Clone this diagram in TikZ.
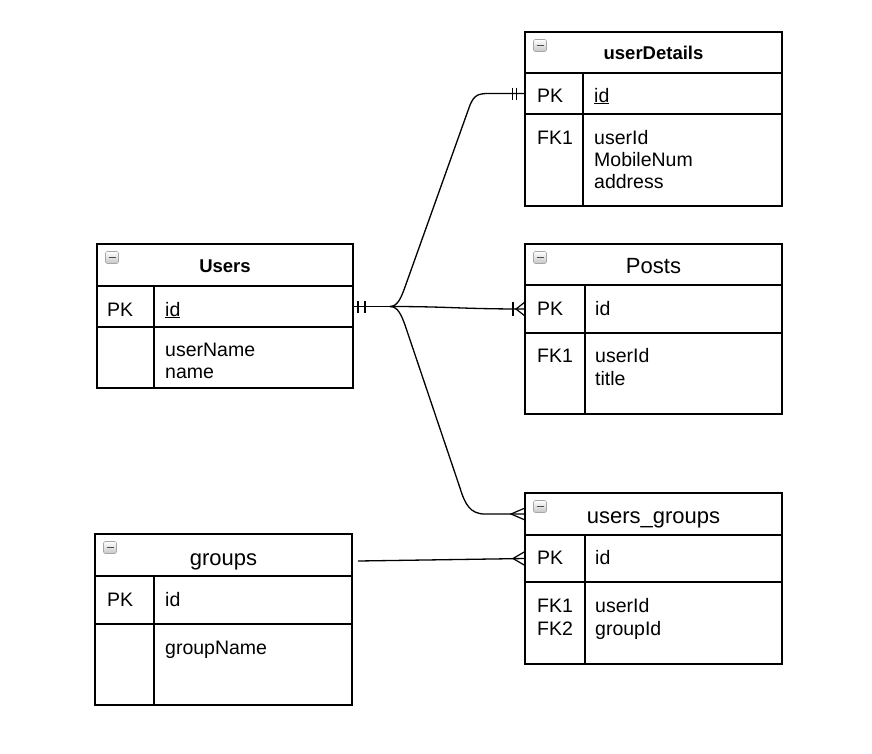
\documentclass[tikz,border=0pt]{standalone}
\usepackage{fontspec}
\setmainfont{Liberation Sans}
\usetikzlibrary{calc}
\newcommand\fieldfont{\fontsize{19.5}{22}\selectfont}
\newcommand\btitlefont{\fontsize{18.5}{22}\selectfont\bfseries}
\newcommand\rtitlefont{\fontsize{22}{26}\selectfont}
\tikzset{
  rowbox/.style={draw=black, line width=1.4pt, rectangle, inner sep=0pt, outer sep=0pt, fill=white},
  tline/.style={draw=black, line width=1.4pt},
  conn/.style={draw=black, line width=1.3pt},
  cardmark/.style={draw=black, line width=1.2pt},
  txt/.style={inner sep=0pt, anchor=base west, font=\fieldfont},
  btitle/.style={inner sep=0pt, anchor=base, font=\btitlefont},
  rtitle/.style={inner sep=0pt, anchor=base, font=\rtitlefont},
  minusicon/.style={rectangle, rounded corners=2pt, minimum width=13pt, minimum height=12pt,
    inner sep=0pt, draw=gray!70, line width=0.6pt, top color=white, bottom color=gray!45,
    path picture={\draw[line width=1.8pt, black!70]
      ([xshift=3pt]path picture bounding box.west) -- ([xshift=-3pt]path picture bounding box.east);}},
}
% name, x, y, width, title h, key h, fields h, divider offset
\newcommand\ertab[8]{%
  \node[rowbox, minimum width=#4pt, minimum height=#5pt, anchor=north west] (#1-t) at (#2,#3) {};
  \node[rowbox, minimum width=#4pt, minimum height=#6pt, anchor=north west] (#1-k) at (#1-t.south west) {};
  \node[rowbox, minimum width=#4pt, minimum height=#7pt, anchor=north west] (#1-f) at (#1-k.south west) {};
  \draw[tline] ([xshift=#8pt]#1-k.north west) -- ([xshift=#8pt]#1-f.south west);
  \node[minusicon] (#1-i) at ([xshift=15pt,yshift=-13.5pt]#1-t.north west) {};
}
\begin{document}
\begin{tikzpicture}[x=1pt,y=-1pt]
\useasboundingbox (0,0) rectangle (872,753);

% ---------- tables ----------
\ertab{us}{97}{244}{256}{42}{41}{61}{57}
\ertab{ud}{525}{32}{257}{41}{41}{92}{58}
\ertab{ps}{525}{244}{257}{41}{48}{81}{60}
\ertab{ug}{525}{493}{257}{42}{47}{82}{60}
\ertab{gr}{95}{534}{257}{42}{48}{81}{59}

% ---------- Users ----------
\node[btitle] (us-title) at (225,272) {Users};
\node[txt] (us-pk) at (107,316) {PK};
\node[txt] (us-id) at (165,316) {\underline{id}};
\node[txt] (us-f1) at (165,356) {userName};
\node[txt] (us-f2) at (165,378) {name};

% ---------- userDetails ----------
\node[btitle] (ud-title) at (653.5,59) {userDetails};
\node[txt] (ud-pk) at (537,102) {PK};
\node[txt] (ud-id) at (594,102) {\underline{id}};
\node[txt] (ud-fk) at (537,144) {FK1};
\node[txt] (ud-f1) at (594,144) {userId};
\node[txt] (ud-f2) at (594,166) {MobileNum};
\node[txt] (ud-f3) at (594,188) {address};

% ---------- Posts ----------
\node[rtitle] (ps-title) at (653.5,273) {Posts};
\node[txt] (ps-pk) at (537,315) {PK};
\node[txt] (ps-id) at (595,315) {id};
\node[txt] (ps-fk) at (537,362) {FK1};
\node[txt] (ps-f1) at (595,362) {userId};
\node[txt] (ps-f2) at (595,385) {title};

% ---------- users_groups ----------
\node[rtitle] (ug-title) at (653.5,523) {users\_groups};
\node[txt] (ug-pk) at (537,564) {PK};
\node[txt] (ug-id) at (595,564) {id};
\node[txt] (ug-fk1) at (537,612) {FK1};
\node[txt] (ug-fk2) at (537,635) {FK2};
\node[txt] (ug-f1) at (595,612) {userId};
\node[txt] (ug-f2) at (595,635) {groupId};

% ---------- groups ----------
\node[rtitle] (gr-title) at (223.5,565) {groups};
\node[txt] (gr-pk) at (107,606) {PK};
\node[txt] (gr-id) at (165,606) {id};
\node[txt] (gr-f1) at (165,654) {groupName};

% ---------- connectors ----------
\coordinate (J) at (390,306.5);
\coordinate (gstart) at (358,561);

\draw[conn] (us-k.east) -- (J);
\draw[conn] (J) .. controls (398,306.5) and (401.5,296.5) .. (405,287)
  -- (470,105) .. controls (474,95.5) and (478,93.5) .. (488,93.5) -- (ud-k.west);
\draw[conn] (J) .. controls (450,306.5) and (460,309) .. (ps-k.west);
\draw[conn] (J) .. controls (398,306.5) and (401.5,315.5) .. (405,325)
  -- (460,488) .. controls (465,504) and (470,514) .. (485,514) -- (ug-t.west);
\draw[conn] (gstart) -- (ug-k.west);

% ---------- cardinality marks ----------
\draw[cardmark] ($(us-k.east)+(5,-6)$) -- ++(0,12);
\draw[cardmark] ($(us-k.east)+(12,-6)$) -- ++(0,12);
\draw[cardmark] ($(ud-k.west)+(-12.5,-6)$) -- ++(0,12);
\draw[cardmark] ($(ud-k.west)+(-8.5,-6)$) -- ++(0,12);
\draw[cardmark] ($(ps-k.west)+(-12,-7)$) -- ++(0,14);
\draw[cardmark] ($(ps-k.west)+(0,-7)$) -- ($(ps-k.west)+(-9,0)$) -- ($(ps-k.west)+(0,7)$);
\draw[cardmark] ($(ug-t.west)+(0,-6)$) -- ($(ug-t.west)+(-14,0)$) -- ($(ug-t.west)+(0,6)$);
\draw[cardmark] ($(ug-k.west)+(0,-7)$) -- ($(ug-k.west)+(-12,0)$) -- ($(ug-k.west)+(0,7)$);
\end{tikzpicture}
\end{document}
